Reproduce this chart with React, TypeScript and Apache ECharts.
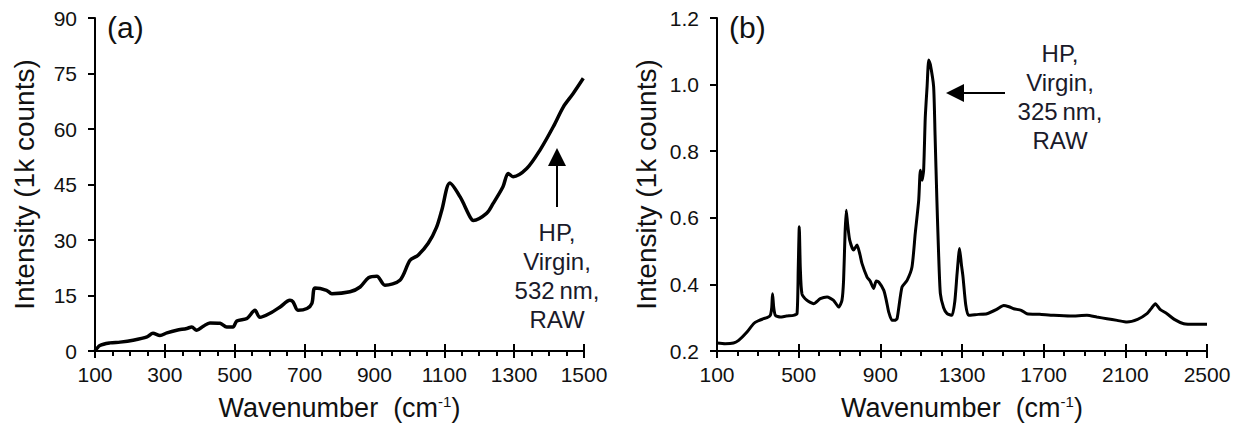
import React, { useEffect, useRef } from "react";
import * as echarts from "echarts";

const FONT = "'Liberation Sans', Arial, Helvetica, sans-serif";

// Panel (a): 532 nm excitation
const waveA = [100, 114, 143, 172, 209, 249, 266, 286, 306, 334, 363, 377, 391, 410, 429, 458, 477, 495, 506, 535, 558, 572, 601, 630, 658, 667, 681, 707, 721, 730, 763, 778, 830, 859, 883, 907, 930, 973, 1002, 1025, 1054, 1078, 1093, 1116, 1145, 1174, 1183, 1221, 1240, 1268, 1283, 1297, 1336, 1374, 1412, 1441, 1469, 1498];
const intA = [0, 1.5, 2.2, 2.4, 2.9, 3.8, 4.8, 4.2, 4.9, 5.6, 6.1, 6.5, 5.6, 6.7, 7.6, 7.5, 6.5, 6.5, 8.1, 8.8, 11, 9.1, 10.2, 11.9, 13.7, 13.3, 11, 11.5, 12.9, 17, 16.4, 15.5, 16, 17.3, 19.8, 20.2, 17.8, 19.1, 24.5, 25.9, 29.1, 33.5, 38.1, 45.4, 41.7, 36.2, 35.3, 37.2, 39.9, 44.4, 48, 47.1, 49.3, 54.3, 60.6, 66, 69.6, 73.7];

// Panel (b): 325 nm excitation
const waveB = [100, 140, 181, 206, 247, 279, 300, 328, 345, 361, 368, 372, 378, 386, 410, 440, 475, 492, 498, 503, 508, 516, 541, 573, 606, 639, 671, 696, 712, 720, 727, 733, 740, 750, 769, 786, 800, 810, 835, 850, 867, 880, 892, 917, 930, 941, 957, 970, 982, 1006, 1031, 1055, 1071, 1088, 1096, 1104, 1112, 1120, 1129, 1137, 1145, 1161, 1168, 1177, 1185, 1194, 1210, 1227, 1251, 1265, 1276, 1288, 1297, 1305, 1318, 1332, 1380, 1422, 1470, 1504, 1530, 1553, 1590, 1618, 1680, 1749, 1830, 1912, 1960, 2010, 2060, 2108, 2160, 2206, 2230, 2247, 2270, 2304, 2340, 2386, 2440, 2500];
const intB = [0.224, 0.222, 0.224, 0.232, 0.257, 0.282, 0.29, 0.297, 0.3, 0.307, 0.33, 0.372, 0.33, 0.307, 0.302, 0.305, 0.307, 0.312, 0.45, 0.573, 0.45, 0.372, 0.352, 0.342, 0.357, 0.362, 0.352, 0.332, 0.352, 0.412, 0.55, 0.623, 0.58, 0.533, 0.503, 0.518, 0.49, 0.463, 0.422, 0.41, 0.388, 0.41, 0.407, 0.382, 0.35, 0.317, 0.292, 0.292, 0.297, 0.392, 0.412, 0.452, 0.553, 0.653, 0.743, 0.713, 0.743, 0.9, 0.994, 1.074, 1.06, 0.994, 0.85, 0.653, 0.5, 0.372, 0.33, 0.312, 0.307, 0.35, 0.433, 0.508, 0.46, 0.422, 0.34, 0.307, 0.31, 0.312, 0.325, 0.337, 0.333, 0.327, 0.322, 0.312, 0.31, 0.307, 0.305, 0.307, 0.302, 0.297, 0.292, 0.287, 0.295, 0.312, 0.33, 0.342, 0.325, 0.312, 0.295, 0.282, 0.28, 0.28];

// Tick labels
const majorTicksA = [100, 300, 500, 700, 900, 1100, 1300, 1500];
const minorTicksA = [150, 200, 250, 350, 400, 450, 550, 600, 650, 750, 800, 850, 950, 1000, 1050, 1150, 1200, 1250, 1350, 1400, 1450];
const majorTicksB = [100, 500, 900, 1300, 1700, 2100, 2500];
const minorTicksB = [200, 300, 400, 600, 700, 800, 1000, 1100, 1200, 1400, 1500, 1600, 1800, 1900, 2000, 2200, 2300, 2400];

const labelA = ["HP,", "Virgin,", "532\u2009nm,", "RAW"];
const labelB = ["HP,", "Virgin,", "325\u2009nm,", "RAW"];

const xName = "{a|Wavenumber  (cm}{s|-1}{a|)}";
const yName = "Intensity (1k counts)";

function xAxesFor(grid: number, min: number, max: number, majors: number[], minors: number[]) {
  const base = { type: "value", gridIndex: grid, min, max, position: "bottom", offset: 0, splitLine: { show: false } };
  return [
    {
      ...base,
      name: xName,
      nameLocation: "middle",
      nameGap: 43,
      nameTextStyle: {
        rich: {
          a: { fontSize: 27, fontFamily: FONT, color: "#111" },
          s: { fontSize: 15, fontFamily: FONT, color: "#111", verticalAlign: "top", padding: [0, 0, 12, 0] },
        },
      },
      axisLine: { show: true, onZero: false, lineStyle: { color: "#000", width: 2 } },
      axisTick: { show: true, customValues: majors, length: 7, lineStyle: { color: "#000", width: 2 } },
      axisLabel: {
        show: true,
        customValues: majors,
        fontSize: 21,
        fontFamily: FONT,
        color: "#111",
        margin: 13,
        formatter: (v: number) => String(Math.round(v)),
      },
    },
    {
      ...base,
      axisLine: { show: false, onZero: false },
      axisTick: { show: true, inside: true, customValues: majors, length: 7, lineStyle: { color: "#000", width: 2 } },
      axisLabel: { show: false },
    },
    {
      ...base,
      axisLine: { show: false, onZero: false },
      axisTick: { show: true, customValues: minors, length: 5, lineStyle: { color: "#000", width: 2 } },
      axisLabel: { show: false },
    },
  ];
}

function yAxisFor(grid: number, min: number, max: number, interval: number, decimals: number) {
  return {
    type: "value",
    gridIndex: grid,
    min,
    max,
    interval,
    name: yName,
    nameLocation: "middle",
    nameGap: 57,
    nameTextStyle: { fontSize: 28, fontFamily: FONT, color: "#111" },
    splitLine: { show: false },
    axisLine: { show: true, lineStyle: { color: "#000", width: 2 } },
    axisTick: { show: true, length: 7, lineStyle: { color: "#000", width: 2 } },
    axisLabel: {
      show: true,
      fontSize: 21,
      fontFamily: FONT,
      color: "#111",
      margin: 18,
      formatter: (v: number) => v.toFixed(decimals),
    },
  };
}

export default function App() {
  const ref = useRef<HTMLDivElement>(null);
  useEffect(() => {
    if (!ref.current) return;
    const chart = echarts.init(ref.current, null, { renderer: "svg" });
    const option: any = {
      animation: false,
      backgroundColor: "#fff",
      grid: [
        { left: 95, top: 18, width: 489, height: 333 },
        { left: 717, top: 18, width: 490, height: 333 },
      ],
      xAxis: [
        ...xAxesFor(0, 100, 1500, majorTicksA, minorTicksA),
        ...xAxesFor(1, 100, 2500, majorTicksB, minorTicksB),
      ],
      yAxis: [yAxisFor(0, 0, 90, 15, 0), yAxisFor(1, 0.2, 1.2, 0.2, 1)],
      series: [
        {
          type: "line",
          xAxisIndex: 0,
          yAxisIndex: 0,
          data: waveA.map((w, i) => [w, intA[i]]),
          showSymbol: false,
          smooth: 0.3,
          lineStyle: { color: "#000", width: 3.5 },
        },
        {
          type: "line",
          xAxisIndex: 3,
          yAxisIndex: 1,
          data: waveB.map((w, i) => [w, intB[i]]),
          showSymbol: false,
          smooth: 0.2,
          lineStyle: { color: "#000", width: 3 },
        },
      ],
      graphic: [
        { type: "text", left: 107, top: 12, style: { text: "(a)", fontSize: 30, fontFamily: FONT, fill: "#111" } },
        { type: "text", left: 729, top: 12, style: { text: "(b)", fontSize: 30, fontFamily: FONT, fill: "#111" } },
        // arrow (a)
        { type: "line", shape: { x1: 557, y1: 207, x2: 557, y2: 162 }, style: { stroke: "#000", lineWidth: 2 } },
        { type: "polygon", shape: { points: [[557, 148], [548, 166], [566, 166]] }, style: { fill: "#000" } },
        {
          type: "text",
          x: 557,
          y: 218,
          style: { text: labelA.join("\n"), fontSize: 24, lineHeight: 29, fontFamily: FONT, fill: "#1a1a2a", align: "center", verticalAlign: "top" },
        },
        // arrow (b)
        { type: "line", shape: { x1: 1005, y1: 93, x2: 960, y2: 93 }, style: { stroke: "#000", lineWidth: 2 } },
        { type: "polygon", shape: { points: [[946, 93], [964, 84], [964, 102]] }, style: { fill: "#000" } },
        {
          type: "text",
          x: 1060,
          y: 39,
          style: { text: labelB.join("\n"), fontSize: 24, lineHeight: 29, fontFamily: FONT, fill: "#1a1a2a", align: "center", verticalAlign: "top" },
        },
      ],
    };
    chart.setOption(option);
    return () => chart.dispose();
  }, []);
  return (
    <div
      ref={ref}
      style={{ position: "fixed", left: 0, top: 0, width: 1244, height: 431, background: "#fff" }}
    />
  );
}
